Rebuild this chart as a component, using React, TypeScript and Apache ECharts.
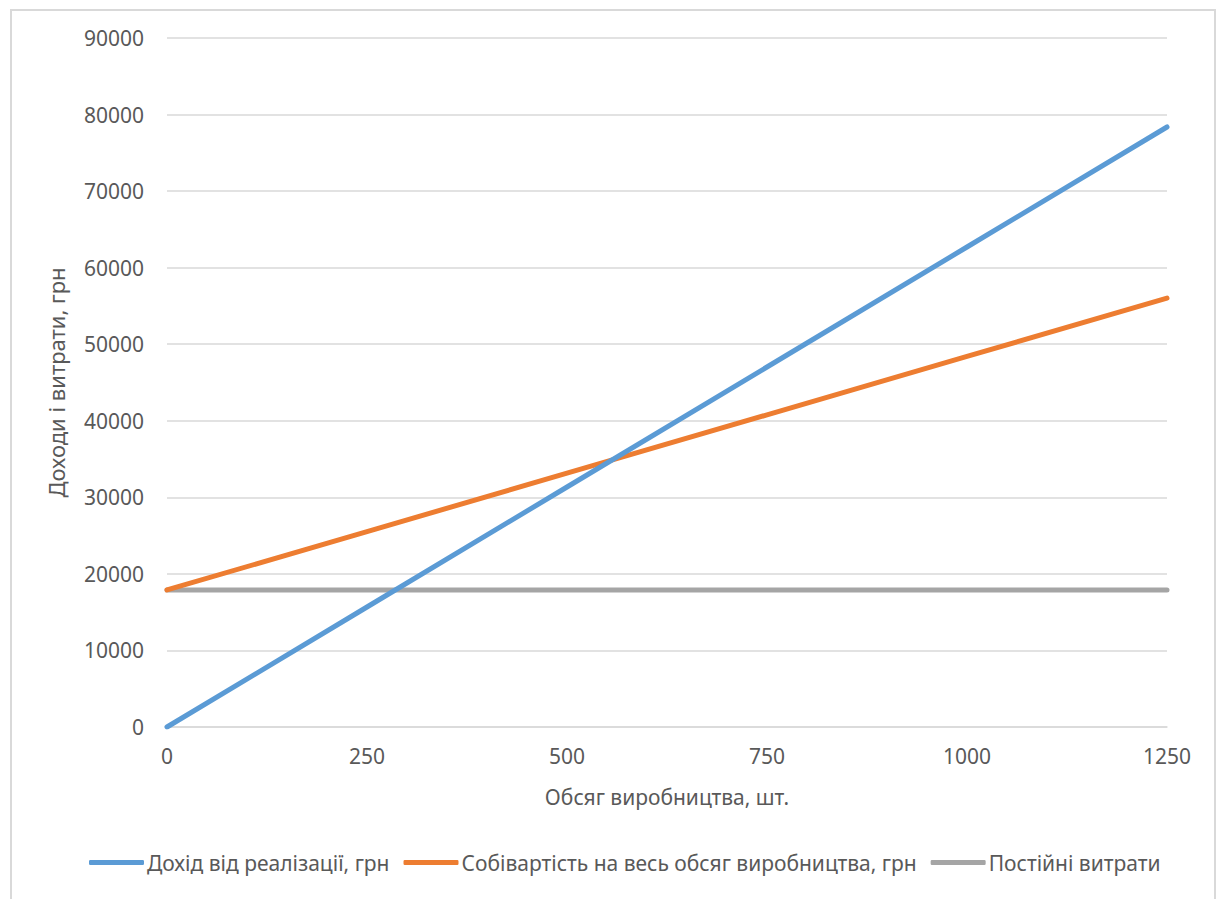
import React, { useEffect, useRef } from "react";
import * as echarts from "echarts";

const volumes = [0, 250, 500, 750, 1000, 1250];
const revenue = [0, 15675, 31350, 47025, 62700, 78375];
const totalCost = [17900, 25525, 33150, 40775, 48400, 56025];
const fixedCost = [17900, 17900, 17900, 17900, 17900, 17900];
const seriesNames = [
  "Дохід від реалізації, грн",
  "Собівартість на весь обсяг виробництва, грн",
  "Постійні витрати",
];
const xAxisName = "Обсяг виробництва, шт.";
const yAxisName = "Доходи і витрати, грн";

const FONT = "'Noto Sans', 'Open Sans', sans-serif";
const TEXT = "#595959";

export default function App() {
  const ref = useRef<HTMLDivElement>(null);
  useEffect(() => {
    if (!ref.current) return;
    const chart = echarts.init(ref.current, undefined, { renderer: "svg" });
    const mk = (vals: number[]) => volumes.map((v, i) => [v, vals[i]]);
    const colors = ["#5B9BD5", "#ED7D31", "#A5A5A5"];
    const datas = [revenue, totalCost, fixedCost];
    chart.setOption({
      animation: false,
      textStyle: { fontFamily: FONT, color: TEXT },
      grid: { left: 167, right: 54, top: 38, bottom: 172, containLabel: false },
      xAxis: {
        type: "value",
        min: 0,
        max: 1250,
        interval: 250,
        name: xAxisName,
        nameLocation: "middle",
        nameGap: 59,
        nameTextStyle: { fontSize: 21, color: TEXT, fontFamily: FONT },
        axisLine: { show: true, lineStyle: { color: "#D9D9D9", width: 1.5 } },
        axisTick: { show: false },
        splitLine: { show: false },
        axisLabel: { fontSize: 21, color: TEXT, margin: 18, fontFamily: FONT, formatter: (v: number) => String(v) },
      },
      yAxis: {
        type: "value",
        min: 0,
        max: 90000,
        interval: 10000,
        name: yAxisName,
        nameLocation: "middle",
        nameGap: 100,
        nameTextStyle: { fontSize: 22, color: TEXT, fontFamily: FONT },
        axisLine: { show: false },
        axisTick: { show: false },
        splitLine: { show: true, lineStyle: { color: "#D9D9D9", width: 1.5 } },
        axisLabel: { fontSize: 21, color: TEXT, margin: 23, fontFamily: FONT, formatter: (v: number) => String(v) },
      },
      legend: {
        bottom: 21,
        left: 84,
        icon: "roundRect",
        itemWidth: 55,
        itemHeight: 5,
        itemGap: 14,
        textStyle: { fontSize: 21, color: TEXT, fontFamily: FONT, padding: [0, 0, 0, -2] },
        data: seriesNames,
      },
      series: seriesNames.map((name, i) => ({
        name,
        type: "line",
        data: mk(datas[i]),
        showSymbol: false,
        symbol: "none",
        z: i === 2 ? 1 : 3 - i,
        lineStyle: { color: colors[i], width: 5, cap: "round" },
        itemStyle: { color: colors[i] },
      })),
    });
    return () => chart.dispose();
  }, []);
  return (
    <div style={{ position: "absolute", left: 0, top: 0, width: 1221, height: 899, overflow: "hidden", background: "#fff" }}>
      <div
        style={{
          position: "absolute",
          left: 10,
          top: 9,
          width: 1206,
          height: 900,
          border: "2px solid #D9D9D9",
          boxSizing: "border-box",
        }}
      />
      <div ref={ref} style={{ position: "absolute", left: 0, top: 0, width: 1221, height: 899 }} />
    </div>
  );
}
